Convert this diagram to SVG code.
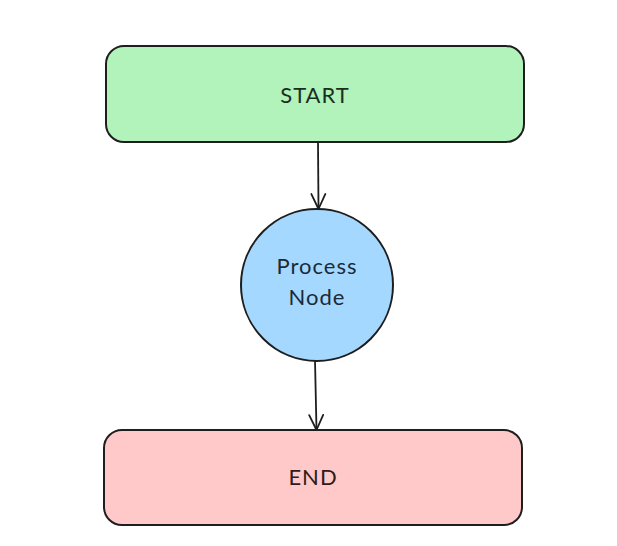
<svg xmlns="http://www.w3.org/2000/svg" width="617" height="546" viewBox="0 0 617 546">
<defs>
<marker id="arr" viewBox="0 0 20 20" refX="18" refY="10" markerWidth="20" markerHeight="20" markerUnits="userSpaceOnUse" orient="auto">
<path d="M3 3 L18 10 L3 17" fill="none" stroke="#1e1e1e" stroke-width="1.8" stroke-linecap="round" stroke-linejoin="round"/>
</marker>
<style>
.box{stroke:#1e1e1e;stroke-width:2}
.lbl{font-family:"Lato","Noto Sans",sans-serif;font-size:22px;text-anchor:middle;letter-spacing:1px}
.edge{fill:none;stroke:#1e1e1e;stroke-width:1.8}
</style>
</defs>
<rect width="617" height="546" fill="#ffffff"/>
<g id="connectors">
<path class="edge" d="M318 142 L318.5 209" marker-end="url(#arr)"/>
<path class="edge" d="M315 360 L316.5 430" marker-end="url(#arr)"/>
</g>
<g id="start">
<rect class="box" x="106" y="46" width="418" height="96" rx="18" fill="#b2f2bb"/>
<text class="lbl" x="315" y="103" fill="#1b2e1d">START</text>
</g>
<g id="process">
<circle class="box" cx="317" cy="285" r="76" fill="#a5d8ff"/>
<text class="lbl" x="317" y="274" fill="#1a2a3a">Process</text>
<text class="lbl" x="317" y="305" fill="#1a2a3a">Node</text>
</g>
<g id="end">
<rect class="box" x="104" y="430" width="418" height="95" rx="18" fill="#ffc9c9"/>
<text class="lbl" x="313" y="485" fill="#2e1b1b">END</text>
</g>
</svg>
